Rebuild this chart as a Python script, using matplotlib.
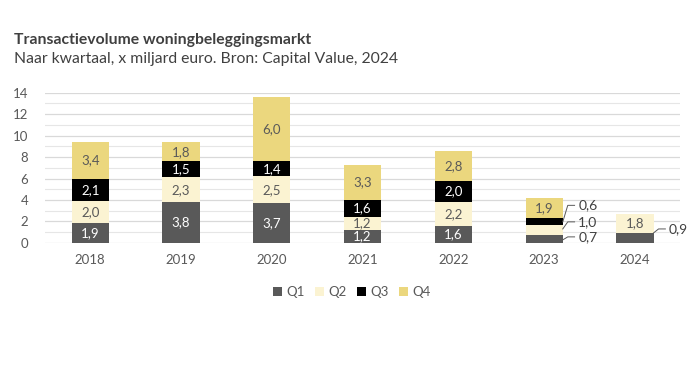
import matplotlib
matplotlib.use("Agg")
import matplotlib.pyplot as plt
import numpy as np

years = ["2018", "2019", "2020", "2021", "2022", "2023", "2024"]
q1 = [1.9, 3.8, 3.7, 1.2, 1.6, 0.7, 0.9]
q2 = [2.0, 2.3, 2.5, 1.2, 2.2, 1.0, 1.8]
q3 = [2.1, 1.5, 1.4, 1.6, 2.0, 0.6, 0.0]
q4 = [3.4, 1.8, 6.0, 3.3, 2.8, 1.9, 0.0]
series_names = ["Q1", "Q2", "Q3", "Q4"]
colors = ["#595959", "#FBF3D2", "#000000", "#EBD77E"]
text_colors = ["#FFFFFF", "#595959", "#FFFFFF", "#595959"]

plt.rcParams['font.family'] = ['Lato', 'DejaVu Sans']

fig = plt.figure(figsize=(6.9, 3.88), dpi=100)
ax = fig.add_axes([0.065, 0.374, 0.921, 0.387])

x = np.arange(len(years))
width = 0.41
bottom = np.zeros(len(years))
data = [q1, q2, q3, q4]
bars = []
for vals, c, name in zip(data, colors, series_names):
    b = ax.bar(x, vals, width, bottom=bottom, color=c, label=name, zorder=3)
    bars.append(b)
    bottom = bottom + np.array(vals)

# labels inside
outside = {(5, 0), (5, 1), (5, 2), (6, 0)}
bot = np.zeros(len(years))
for si, vals in enumerate(data):
    for i, v in enumerate(vals):
        if v > 0 and (i, si) not in outside:
            ax.text(x[i], bot[i] + v / 2, f"{v:.1f}".replace(".", ","),
                    ha="center", va="center", fontsize=9.5, color=text_colors[si], zorder=4)
    bot = bot + np.array(vals)

# outside labels with leader lines
def leader(i, ystart, ylabel, val):
    xe = x[i] + width / 2
    ax.plot([xe, xe + 0.055, xe + 0.13], [ystart, ylabel, ylabel], color="#595959",
            lw=0.7, zorder=4, clip_on=False)
    ax.text(xe + 0.17, ylabel, f"{val:.1f}".replace(".", ","), ha="left", va="center",
            fontsize=10, color="#404040", clip_on=False)

leader(5, 0.28, 0.56, q1[5])
leader(5, 1.3, 1.96, q2[5])
leader(5, 1.96, 3.5, q3[5])
leader(6, 0.93, 1.3, q1[6])

ax.set_xlim(-0.5, 6.5)
ax.set_ylim(0, 14)
ax.set_yticks(np.arange(0, 15, 2))
ax.set_yticks(np.arange(1, 14, 2), minor=True)
ax.set_xticks(x)
ax.set_xticklabels(years)
ax.tick_params(axis="both", which="both", length=0, labelsize=9.5, colors="#595959")
ax.tick_params(axis="y", pad=12)
ax.tick_params(axis="x", pad=8)
ax.grid(axis="y", which="major", color="#D9D9D9", lw=0.9, zorder=0)
ax.grid(axis="y", which="minor", color="#E6E6E6", lw=0.8, zorder=0)
for s in ax.spines.values():
    s.set_visible(False)

fig.text(0.02, 0.897, "Transactievolume woningbeleggingsmarkt", fontsize=11.3,
         fontweight="bold", color="#404040", ha="left", va="center")
fig.text(0.02, 0.848, "Naar kwartaal, x miljard euro. Bron: Capital Value, 2024", fontsize=11.3,
         color="#404040", ha="left", va="center")

leg = fig.legend(handles=bars, labels=series_names, loc="center", bbox_to_anchor=(0.51, 0.247),
                 ncol=4, frameon=False, fontsize=9.5, handlelength=0.7, handleheight=0.7,
                 handletextpad=0.3, columnspacing=0.8, labelcolor="#595959")

fig.savefig("out.png", dpi=100)
